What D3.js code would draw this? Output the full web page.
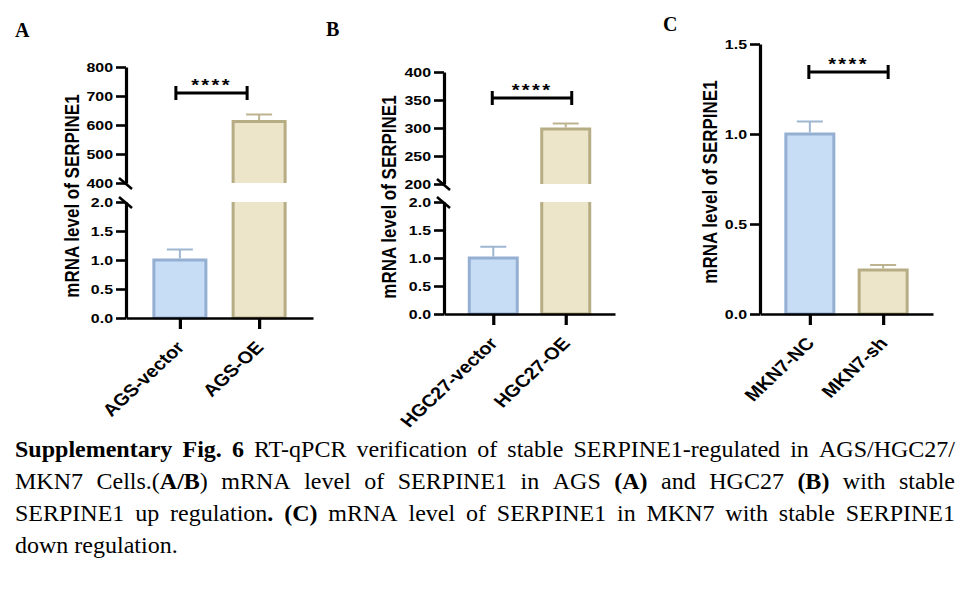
<!DOCTYPE html>
<html>
<head>
<meta charset="utf-8">
<script src="https://cdn.jsdelivr.net/npm/d3@7/dist/d3.min.js"></script>
<style>
  html, body { margin: 0; padding: 0; background: #fff; }
  svg { display: block; }
</style>
</head>
<body>
<svg id="fig" width="969" height="610"></svg>
<script>
// ---- data ----
const catsA = ["AGS-vector", "AGS-OE"];
const meanA = [1.0, 612];
const errA = [0.18, 24];
const ticksA_low = [0, 0.5, 1.0, 1.5, 2.0];
const ticksA_high = [400, 500, 600, 700, 800];

const catsB = ["HGC27-vector", "HGC27-OE"];
const meanB = [1.0, 298];
const errB = [0.2, 10];
const ticksB_low = [0, 0.5, 1.0, 1.5, 2.0];
const ticksB_high = [200, 250, 300, 350, 400];

const catsC = ["MKN7-NC", "MKN7-sh"];
const meanC = [1.0, 0.245];
const errC = [0.07, 0.027];
const ticksC = [0, 0.5, 1.0, 1.5];

const sigLabel = "****";
const yTitle = "mRNA level of SERPINE1";

const captionLines = [
  [[["Supplementary", 1]], [["Fig.", 1]], [["6", 1]], [["RT-qPCR", 0]], [["verification", 0]], [["of", 0]], [["stable", 0]], [["SERPINE1-regulated", 0]], [["in", 0]], [["AGS/HGC27/", 0]]],
  [[["MKN7", 0]], [["Cells.(", 0], ["A/B", 1], [")", 0]], [["mRNA", 0]], [["level", 0]], [["of", 0]], [["SERPINE1", 0]], [["in", 0]], [["AGS", 0]], [["(A)", 1]], [["and", 0]], [["HGC27", 0]], [["(B)", 1]], [["with", 0]], [["stable", 0]]],
  [[["SERPINE1", 0]], [["up", 0]], [["regulation", 0], [".", 1]], [["(C)", 1]], [["mRNA", 0]], [["level", 0]], [["of", 0]], [["SERPINE1", 0]], [["in", 0]], [["MKN7", 0]], [["with", 0]], [["stable", 0]], [["SERPINE1", 0]]],
  [[["down", 0]], [["regulation.", 0]]]
];

// ---- style ----
const blue = { fill: "#c7dcf5", stroke: "#94afd2", err: "#9fb6d0" };
const beige = { fill: "#ece5c9", stroke: "#b7ad85", err: "#bdb48f" };
const barColors = [blue, beige];
const SX = 1.18; // the figure's text looks stretched sideways
const sansFont = "'Liberation Sans', Arial, sans-serif";
const serifFont = "'Liberation Serif', 'Times New Roman', serif";

const svg = d3.select("#fig");

const panels = [
  { letter: "A", lx: 15, ly: 37, axisX: 126, xEnd: 313, y0: 318,
    cats: catsA, mean: meanA, err: errA, barW: 52,
    segs: [ { domain: [0, 2], range: [318, 202], ticks: ticksA_low, fmt: d3.format(".1f") },
            { domain: [400, 800], range: [183, 67], ticks: ticksA_high, fmt: d3.format("d") } ],
    bracketY: 93, bracketDx: [-4, -12], titleX: 72, titleY: 196 },
  { letter: "B", lx: 326, ly: 36, axisX: 444, xEnd: 615, y0: 314,
    cats: catsB, mean: meanB, err: errB, barW: 48,
    segs: [ { domain: [0, 2], range: [314, 202], ticks: ticksB_low, fmt: d3.format(".1f") },
            { domain: [200, 400], range: [184, 72], ticks: ticksB_high, fmt: d3.format("d") } ],
    bracketY: 98, bracketDx: [-1, 6], titleX: 389, titleY: 197 },
  { letter: "C", lx: 663, ly: 31, axisX: 760, xEnd: 933, y0: 314,
    cats: catsC, mean: meanC, err: errC, barW: 48,
    segs: [ { domain: [0, 1.5], range: [314, 44], ticks: ticksC, fmt: d3.format(".1f") } ],
    bracketY: 72, bracketDx: [-1, 5], titleX: 710, titleY: 182 }
];

panels.forEach(drawPanel);
drawCaption();

function drawPanel(p) {
  const g = svg.append("g");
  p.segs.forEach(s => s.y = d3.scaleLinear().domain(s.domain).range(s.range));

  const x = d3.scalePoint()
    .domain(p.cats)
    .range([p.axisX, p.xEnd])
    .padding(0.68);

  // bars (split across axis segments when the axis is broken)
  p.cats.forEach((c, i) => {
    const v = p.mean[i];
    const col = barColors[i];
    const x0 = x(c) - p.barW / 2, x1 = x(c) + p.barW / 2;
    p.segs.forEach(s => {
      const lo = s.domain[0], hi = s.domain[1];
      if (v <= lo) return;
      const top = Math.min(v, hi);
      const yb = s.y(lo), yt = s.y(top);
      const openTop = v > hi, openBottom = lo > 0;
      g.append("rect")
        .attr("x", x0).attr("y", yt)
        .attr("width", p.barW).attr("height", yb - yt)
        .attr("fill", col.fill);
      const path = d3.path();
      path.moveTo(x0, yb);
      path.lineTo(x0, yt);
      if (!openTop) path.lineTo(x1, yt); else path.moveTo(x1, yt);
      path.lineTo(x1, yb);
      if (!openBottom) path.lineTo(x0, yb);
      g.append("path")
        .attr("d", path.toString())
        .attr("fill", "none")
        .attr("stroke", col.stroke)
        .attr("stroke-width", 3);
    });
    // error bar (upper half only)
    const s = p.segs.find(s => v >= s.domain[0] && v <= s.domain[1]);
    const yTop = s.y(v + p.err[i]);
    g.append("path")
      .attr("d", `M${x(c)},${s.y(v) - 1.5}V${yTop}M${x(c) - 13},${yTop}H${x(c) + 13}`)
      .attr("fill", "none")
      .attr("stroke", col.err)
      .attr("stroke-width", 2);
  });

  // y axis segments
  p.segs.forEach(s => {
    const ax = g.append("g")
      .attr("transform", `translate(${p.axisX},0)`)
      .call(d3.axisLeft(s.y).tickValues(s.ticks).tickFormat(s.fmt).tickSize(10).tickSizeOuter(0));
    ax.select(".domain").attr("stroke", "#000").attr("stroke-width", 3.2);
    ax.selectAll(".tick line").attr("stroke", "#000").attr("stroke-width", 2.6);
    ax.selectAll(".tick text")
      .attr("x", -13 / SX)
      .attr("transform", `scale(${SX},1)`)
      .attr("fill", "#000")
      .style("font-family", sansFont)
      .style("font-weight", "bold")
      .style("font-size", "13.5px");
  });

  // break marks
  if (p.segs.length > 1) {
    const yb1 = p.segs[0].range[1], yb2 = p.segs[1].range[0];
    [yb1, yb2].forEach(yy => {
      g.append("line")
        .attr("x1", p.axisX - 7).attr("y1", yy - 5)
        .attr("x2", p.axisX + 6).attr("y2", yy + 6)
        .attr("stroke", "#000").attr("stroke-width", 2.6);
    });
  }

  // x axis
  const xa = g.append("g")
    .attr("transform", `translate(0,${p.y0})`)
    .call(d3.axisBottom(x).tickSize(11).tickSizeOuter(0));
  xa.select(".domain").attr("stroke", "#000").attr("stroke-width", 2.6);
  xa.selectAll(".tick line").attr("stroke", "#000").attr("stroke-width", 3.2);
  xa.selectAll(".tick text")
    .attr("x", 0).attr("y", 0).attr("dy", null)
    .attr("transform", `translate(5,30) scale(${SX},1) rotate(-48)`)
    .attr("text-anchor", "end")
    .attr("fill", "#000")
    .style("font-family", sansFont)
    .style("font-weight", "bold")
    .style("font-size", "17px");

  // y title
  g.append("text")
    .attr("transform", `translate(${p.titleX},${p.titleY}) scale(${SX},1) rotate(-90)`)
    .attr("text-anchor", "middle")
    .attr("dy", "0.35em")
    .style("font-family", sansFont)
    .style("font-weight", "bold")
    .style("font-size", "17px")
    .text(yTitle);

  // significance bracket
  const bx0 = x(p.cats[0]) + p.bracketDx[0], bx1 = x(p.cats[1]) + p.bracketDx[1];
  g.append("path")
    .attr("d", `M${bx0},${p.bracketY - 7}V${p.bracketY + 7}M${bx0},${p.bracketY}H${bx1}M${bx1},${p.bracketY - 7}V${p.bracketY + 7}`)
    .attr("fill", "none")
    .attr("stroke", "#000")
    .attr("stroke-width", 3);
  g.append("text")
    .attr("transform", `translate(${(bx0 + bx1) / 2},${p.bracketY - 2}) scale(${SX},1)`)
    .attr("text-anchor", "middle")
    .style("font-family", sansFont)
    .style("font-weight", "bold")
    .style("font-size", "17px")
    .style("letter-spacing", "2px")
    .text(sigLabel);

  // panel letter
  svg.append("text")
    .attr("x", p.lx).attr("y", p.ly)
    .style("font-family", serifFont)
    .style("font-weight", "bold")
    .style("font-size", "20px")
    .text(p.letter);
}

function drawCaption() {
  const left = 15, right = 955, top = 457, lineH = 32;
  const g = svg.append("g")
    .style("font-family", serifFont)
    .style("font-size", "24px")
    .attr("fill", "#000");

  captionLines.forEach((words, li) => {
    const y = top + li * lineH;
    const nodes = words.map(runs => {
      const t = g.append("text").attr("y", y);
      runs.forEach(r => {
        t.append("tspan")
          .style("font-weight", r[1] ? "bold" : "normal")
          .text(r[0]);
      });
      return t;
    });
    const widths = nodes.map(t => t.node().getComputedTextLength());
    const total = d3.sum(widths);
    const last = li === captionLines.length - 1;
    const gap = last ? 6 : (right - left - total) / (words.length - 1);
    let cx = left;
    nodes.forEach((t, i) => {
      t.attr("x", cx);
      cx += widths[i] + gap;
    });
  });
}
</script>
</body>
</html>
